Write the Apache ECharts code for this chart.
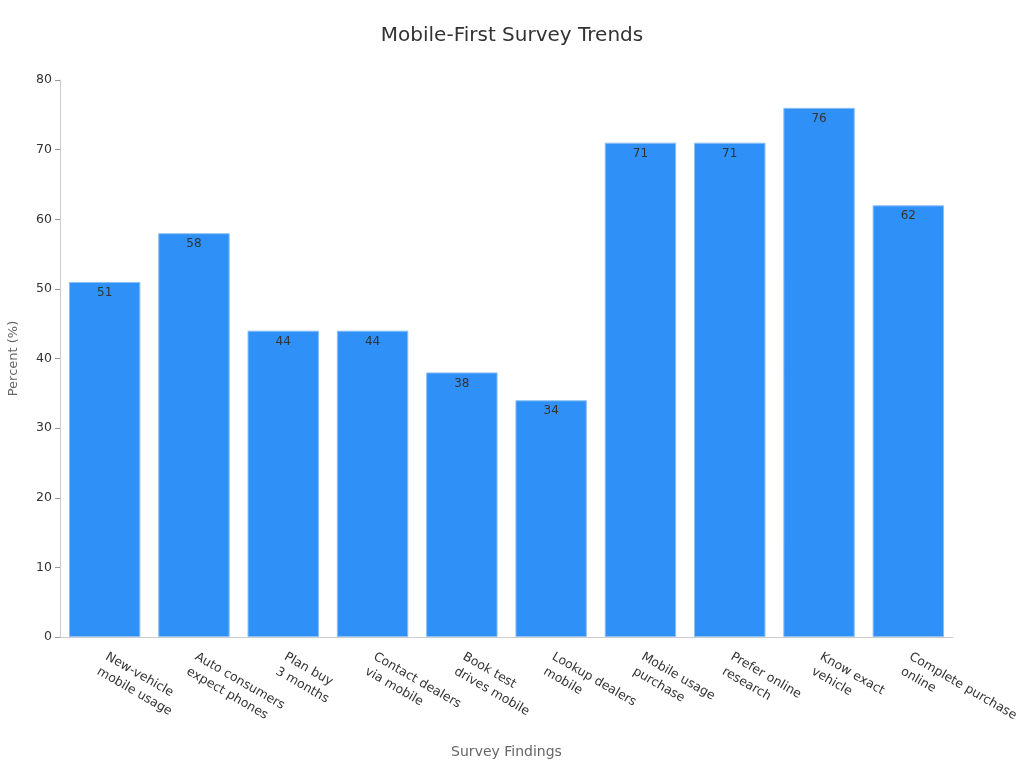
<!DOCTYPE html>
<html><head><meta charset="utf-8">
<script src="https://cdn.jsdelivr.net/npm/echarts@6/dist/echarts.min.js"></script>
<style>html,body{margin:0;padding:0;background:#fff}#c{width:1024px;height:768px}</style>
</head><body><div id="c"></div>
<script>
const categories = ["New-vehicle\nmobile usage","Auto consumers\nexpect phones","Plan buy\n3 months","Contact dealers\nvia mobile","Book test\ndrives mobile","Lookup dealers\nmobile","Mobile usage\npurchase","Prefer online\nresearch","Know exact\nvehicle","Complete purchase\nonline"];
const values = [51,58,44,44,38,34,71,71,76,62];
const yTicks = {min:0,max:80,interval:10};
const chart = echarts.init(document.getElementById('c'), null, {renderer:'canvas'});
const F = 'DejaVu Sans';
chart.setOption({
  backgroundColor:'#fff',
  textStyle:{fontFamily:F},
  title:{text:'Mobile-First Survey Trends',left:'center',top:21,textStyle:{fontFamily:F,fontSize:20,fontWeight:'normal',color:'#333'}},
  grid:{left:60,right:71,top:80,bottom:131,containLabel:false,outerBoundsMode:'none'},
  xAxis:{type:'category',data:categories,name:'Survey Findings',nameLocation:'middle',nameGap:108,
    nameTextStyle:{fontFamily:F,fontSize:14,color:'#666'},
    axisLine:{lineStyle:{color:'#ccc'}},axisTick:{alignWithLabel:true,lineStyle:{color:'#999'}},
    axisLabel:{rotate:-30,fontFamily:F,fontSize:12.5,lineHeight:17,color:'#333',interval:0,margin:8,verticalAlign:'top',padding:[0,0,0,7]}},
  yAxis:{type:'value',min:yTicks.min,max:yTicks.max,interval:yTicks.interval,name:'Percent (%)',nameLocation:'middle',nameGap:40,
    nameTextStyle:{fontFamily:F,fontSize:13,color:'#666'},
    axisLine:{show:true,lineStyle:{color:'#ccc'}},axisTick:{show:true,lineStyle:{color:'#999'}},
    axisLabel:{fontFamily:F,fontSize:12.5,color:'#333'},splitLine:{show:false}},
  series:[{type:'bar',data:values,barCategoryGap:'20%',
    itemStyle:{color:'#2f91f7',borderColor:'#8cc0f5',borderWidth:1},
    label:{show:true,position:'insideTop',fontFamily:F,fontSize:12,color:'#333',distance:5}}]
});
</script></body></html>
